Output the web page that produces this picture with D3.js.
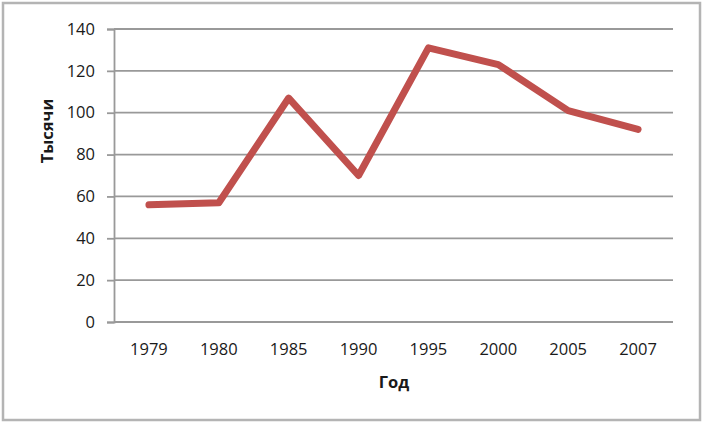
<!DOCTYPE html>
<html><head><meta charset="utf-8">
<script src="https://cdn.jsdelivr.net/npm/d3@7"></script>
<style>body{margin:0;background:#fff}svg{display:block}text{font-family:"Open Sans","Noto Sans",sans-serif;fill:#1a1a1a}</style>
</head><body><svg id="c" width="703" height="423"></svg>
<script>
const years = ["1979","1980","1985","1990","1995","2000","2005","2007"];
const values = [56, 57, 107, 70, 131, 123, 101, 92];
const yTicks = [0,20,40,60,80,100,120,140];
const yTitle = "Тысячи";
const xTitle = "Год";

const svg = d3.select("#c");
svg.append("rect").attr("x",3).attr("y",3).attr("width",697).attr("height",417)
  .attr("fill","#fff").attr("stroke","#b4b4b4").attr("stroke-width",2.5);

const L=114, R=673, T=29, B=322;
const x = d3.scaleBand().domain(years).range([L,R]);
const y = d3.scaleLinear().domain([0,140]).range([B,T]);

const ga = svg.append("g").attr("transform",`translate(${L},0)`)
  .call(d3.axisLeft(y).tickValues(yTicks).tickSize(7).tickPadding(12));
ga.select(".domain").attr("stroke","#999").attr("stroke-width",1.8);
ga.selectAll(".tick line").attr("stroke","#999").attr("stroke-width",1.8);
ga.selectAll(".tick text").attr("font-size",16.5).style("fill","#1a1a1a");
svg.append("g").selectAll("line").data(yTicks).join("line")
  .attr("x1",L).attr("x2",R).attr("y1",d=>y(d)).attr("y2",d=>y(d))
  .attr("stroke","#999").attr("stroke-width",1.8);

const gx = svg.append("g").attr("transform",`translate(0,${B})`)
  .call(d3.axisBottom(x).tickSize(0).tickPadding(21));
gx.select(".domain").remove();
gx.selectAll(".tick text").attr("font-size",16.5).style("fill","#1a1a1a");

const line = d3.line().x((d,i)=>x(years[i])+x.bandwidth()/2).y(d=>y(d));
svg.append("path").datum(values).attr("d",line).attr("fill","none")
  .attr("stroke","#c0504d").attr("stroke-width",7).attr("stroke-linejoin","round").attr("stroke-linecap","round");

svg.append("text").attr("x",394).attr("y",388).attr("text-anchor","middle")
  .attr("font-size",16.5).attr("font-weight","bold").text(xTitle);
svg.append("text").attr("transform",`translate(53,131) rotate(-90)`).attr("text-anchor","middle")
  .attr("font-size",16.5).attr("font-weight","bold").text(yTitle);
</script></body></html>
